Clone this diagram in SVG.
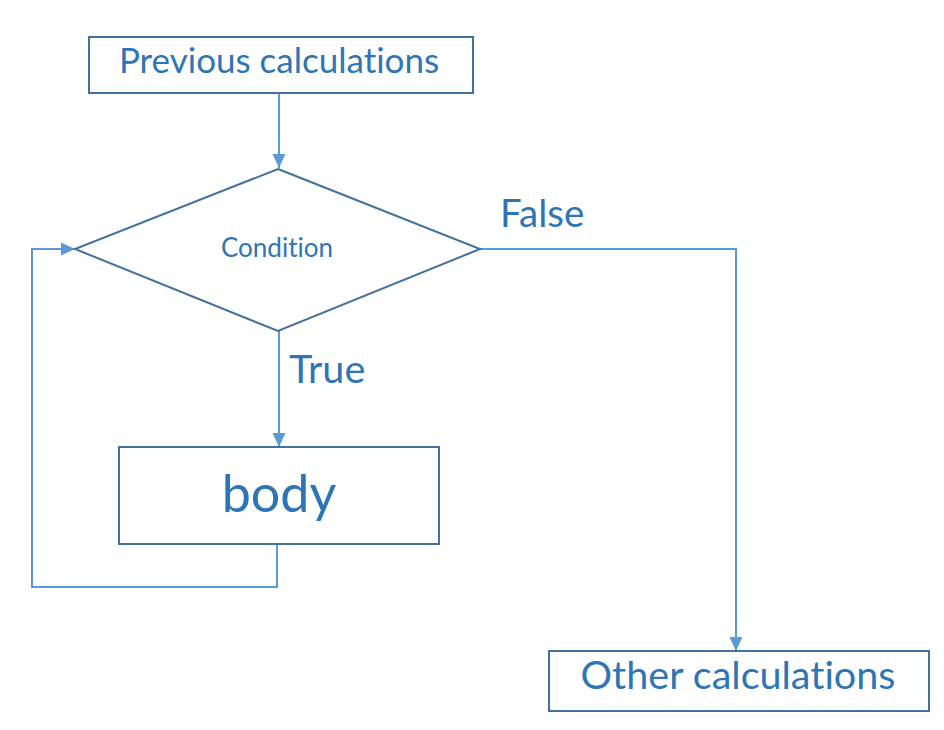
<svg xmlns="http://www.w3.org/2000/svg" width="944" height="730" viewBox="0 0 944 730">
<style>
.box{fill:#fff;stroke:#41719C;stroke-width:2}
.conn{fill:none;stroke:#5B9BD5;stroke-width:2}
.t{font-family:Lato,"Liberation Sans",sans-serif;fill:#2E75B6;font-variant-ligatures:none}
</style>
<defs>
<marker id="arr" markerUnits="userSpaceOnUse" markerWidth="14" markerHeight="14" viewBox="0 0 14 14" refX="14" refY="7" orient="auto">
<path d="M0,0.5 L14,7 L0,13.5 Z" fill="#5B9BD5"/>
</marker>
</defs>
<rect width="944" height="730" fill="#fff"/>
<g id="connectors">
<path class="conn" d="M279,93 L279,168" marker-end="url(#arr)"/>
<path class="conn" d="M279,331 L279,447" marker-end="url(#arr)"/>
<path class="conn" d="M480,249 L736,249 L736,651" marker-end="url(#arr)"/>
<path class="conn" d="M277,544 L277,587 L32,587 L32,249 L75,249" marker-end="url(#arr)"/>
<text class="t" x="500" y="227" font-size="38.5">False</text>
<text class="t" x="289" y="383" font-size="39.5">True</text>
</g>
<g id="previous">
<rect class="box" x="89" y="37" width="384" height="56"/>
<text class="t" x="279" y="73" font-size="35" text-anchor="middle">Previous calculations</text>
</g>
<g id="condition">
<polygon class="box" points="278,169 480,249 278,331 75,249"/>
<text class="t" x="277" y="257" font-size="26" text-anchor="middle">Condition</text>
</g>
<g id="body">
<rect class="box" x="119" y="447" width="320" height="97"/>
<text class="t" x="279" y="512" font-size="52" text-anchor="middle">body</text>
</g>
<g id="other">
<rect class="box" x="549" y="651" width="380" height="60"/>
<text class="t" x="738" y="689" font-size="39.5" text-anchor="middle">Other calculations</text>
</g>
</svg>
